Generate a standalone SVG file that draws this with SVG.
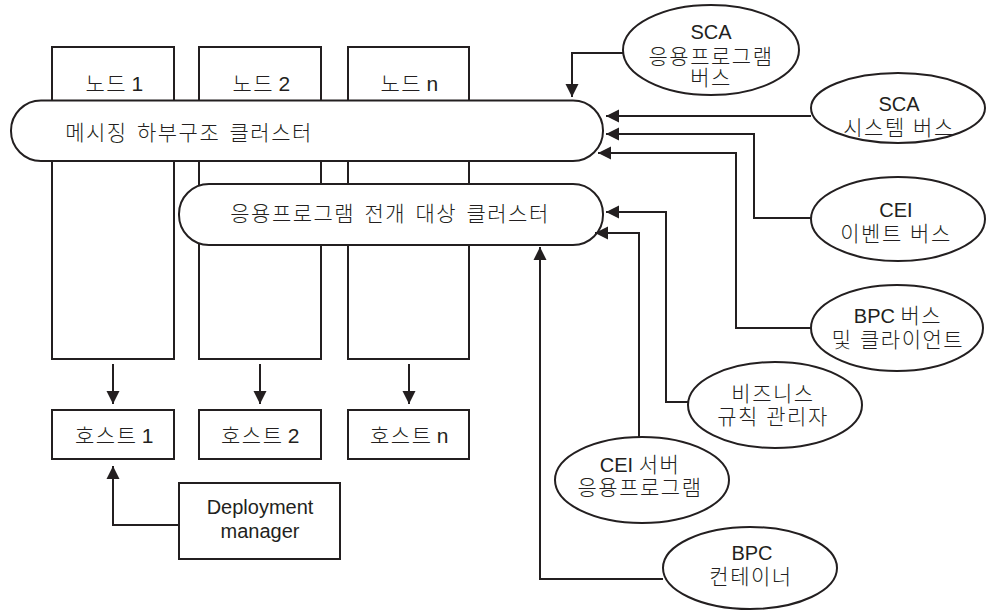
<svg xmlns="http://www.w3.org/2000/svg" width="986" height="610" viewBox="0 0 986 610">
  <defs>
    <style>
      .box { fill: #fff; stroke: #231f20; stroke-width: 2; }
      .wire { fill: none; stroke: #231f20; stroke-width: 2; }
      text { font-family: "Liberation Sans", "Noto Sans CJK KR", sans-serif; font-size: 20px; fill: #231f20; text-anchor: middle; }
      .ko { font-size: 21px; font-weight: 300; letter-spacing: 1.5px; }
      .wide { word-spacing: 2px; }
      .tight { word-spacing: -3px; }
    </style>
    <marker id="arrow" markerUnits="userSpaceOnUse" markerWidth="14" markerHeight="14" viewBox="0 0 14 14" refX="13" refY="7" orient="auto">
      <path d="M0,0.5 L13,7 L0,13.5 Z" fill="#231f20"/>
    </marker>
  </defs>
  <rect width="986" height="610" fill="#fff"/>

  <!-- cluster members -->
  <g id="node-1">
    <rect class="box" x="52" y="47" width="122" height="312"/>
    <text class="ko tight" x="115" y="90.5">노드 1</text>
  </g>
  <g id="node-2">
    <rect class="box" x="199" y="47" width="122" height="312"/>
    <text class="ko tight" x="262" y="90.5">노드 2</text>
  </g>
  <g id="node-n">
    <rect class="box" x="348" y="47" width="121" height="312"/>
    <text class="ko tight" x="410" y="90.5">노드 n</text>
  </g>

  <!-- clusters spanning the members -->
  <g id="messaging-cluster">
    <rect class="box" x="11" y="100.5" width="592" height="60.5" rx="30" ry="30"/>
    <text class="ko wide" x="189" y="140">메시징 하부구조 클러스터</text>
  </g>
  <g id="app-target-cluster">
    <rect class="box" x="179" y="184" width="424" height="61" rx="30" ry="30"/>
    <text class="ko wide" x="390" y="221">응용프로그램 전개 대상 클러스터</text>
  </g>

  <!-- hosts -->
  <g id="host-1">
    <rect class="box" x="52" y="410" width="122" height="49"/>
    <text class="ko tight" x="115" y="442.5">호스트 1</text>
  </g>
  <g id="host-2">
    <rect class="box" x="199" y="410" width="122" height="49"/>
    <text class="ko tight" x="261" y="442.5">호스트 2</text>
  </g>
  <g id="host-n">
    <rect class="box" x="348" y="410" width="121" height="49"/>
    <text class="ko tight" x="410" y="442.5">호스트 n</text>
  </g>

  <g id="deployment-manager">
    <rect class="box" x="179" y="483" width="161" height="76"/>
    <text x="260" y="514">Deployment</text>
    <text x="260" y="538">manager</text>
  </g>

  <!-- buses and applications -->
  <g id="sca-app-bus">
    <ellipse class="box" cx="711" cy="50" rx="88" ry="45"/>
    <text x="711" y="39">SCA</text>
    <text class="ko" x="711" y="64">응용프로그램</text>
    <text class="ko" x="711" y="85">버스</text>
  </g>
  <g id="sca-system-bus">
    <ellipse class="box" cx="898" cy="108" rx="87" ry="35"/>
    <text x="899" y="111">SCA</text>
    <text class="ko" x="899" y="134.5">시스템 버스</text>
  </g>
  <g id="cei-event-bus">
    <ellipse class="box" cx="898" cy="219" rx="87" ry="42"/>
    <text x="896" y="217">CEI</text>
    <text class="ko" x="896" y="241">이벤트 버스</text>
  </g>
  <g id="bpc-bus-client">
    <ellipse class="box" cx="897" cy="328" rx="86" ry="43"/>
    <text x="898" y="323">BPC <tspan class="ko">버스</tspan></text>
    <text class="ko" x="898" y="347">및 클라이언트</text>
  </g>
  <g id="business-rules-manager">
    <ellipse class="box" cx="775" cy="405" rx="87" ry="43"/>
    <text class="ko" x="773" y="401">비즈니스</text>
    <text class="ko" x="773" y="424">규칙 관리자</text>
  </g>
  <g id="cei-server-app">
    <ellipse class="box" cx="642" cy="480" rx="87" ry="43"/>
    <text x="640" y="472">CEI <tspan class="ko">서버</tspan></text>
    <text class="ko" x="640" y="495">응용프로그램</text>
  </g>
  <g id="bpc-container">
    <ellipse class="box" cx="750" cy="568" rx="87" ry="41"/>
    <text x="752" y="560">BPC</text>
    <text class="ko" x="751" y="584">컨테이너</text>
  </g>

  <!-- connectors -->
  <g id="connectors" class="wire">
    <path class="wire" d="M623,53 H572 V97" marker-end="url(#arrow)"/>
    <path class="wire" d="M811,116 H606" marker-end="url(#arrow)"/>
    <path class="wire" d="M811,218 H754 V134 H606" marker-end="url(#arrow)"/>
    <path class="wire" d="M811,328 H736 V153 H598" marker-end="url(#arrow)"/>
    <path class="wire" d="M688,402 H666 V212 H606" marker-end="url(#arrow)"/>
    <path class="wire" d="M639,437 V233 H595" marker-end="url(#arrow)"/>
    <path class="wire" d="M663,579 H540 V247" marker-end="url(#arrow)"/>
    <path class="wire" d="M113,364 V404" marker-end="url(#arrow)"/>
    <path class="wire" d="M260,364 V404" marker-end="url(#arrow)"/>
    <path class="wire" d="M409,364 V404" marker-end="url(#arrow)"/>
    <path class="wire" d="M179,525 H113 V466" marker-end="url(#arrow)"/>
  </g>
</svg>
